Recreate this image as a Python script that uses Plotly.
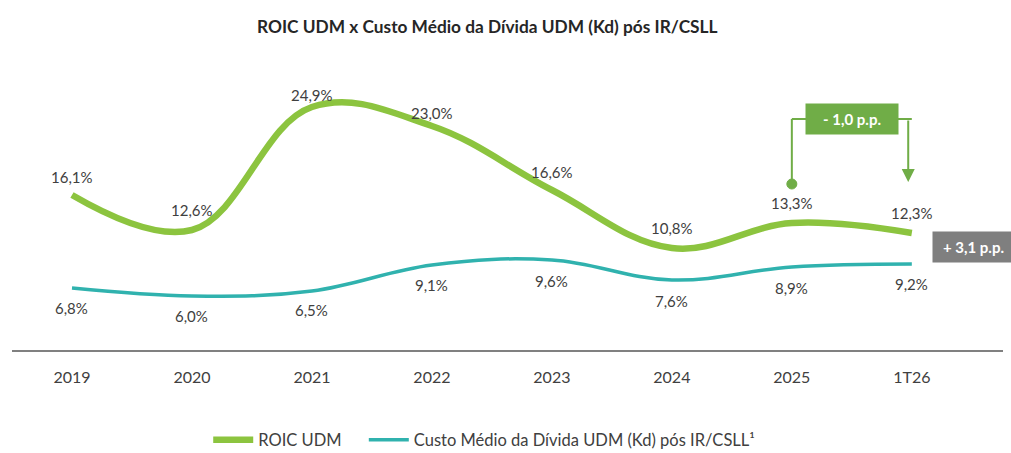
import plotly.graph_objects as go

categories = ["2019", "2020", "2021", "2022", "2023", "2024", "2025", "1T26"]
roic = [16.1, 12.6, 24.9, 23.0, 16.6, 10.8, 13.3, 12.3]
kd = [6.8, 6.0, 6.5, 9.1, 9.6, 7.6, 8.9, 9.2]
roic_name = "ROIC UDM"
kd_name = "Custo Médio da Dívida UDM (Kd) pós IR/CSLL¹"
delta_roic = "- 1,0 p.p."
spread = "+ 3,1 p.p."

# label offsets (pixels) above / below the curves
roic_label_shift = [18, 20, 12, 13, 18, 20, 20, 20]
kd_label_shift = [-20, -20, -19, -20, -21, -21, -21, -20]

GREEN = "#8CC43F"
TEAL = "#30B2AE"
BOXGREEN = "#70AD47"
TXT = "#404040"
FONT = "Lato"

idx = list(range(len(categories)))

fig = go.Figure()
fig.add_trace(go.Scatter(x=idx, y=roic, name=roic_name, mode="lines", legend="legend",
                         line=dict(color=GREEN, width=6.5, shape="spline", smoothing=1.1),
                         hoverinfo="skip"))
fig.add_trace(go.Scatter(x=idx, y=kd, name=kd_name, mode="lines", legend="legend2",
                         line=dict(color=TEAL, width=3.5, shape="spline", smoothing=1.1),
                         hoverinfo="skip"))

def fmt(v):
    return f"{v:.1f}%".replace(".", ",")

anns = []
for i, v, s in zip(idx, roic, roic_label_shift):
    anns.append(dict(x=i, y=v, xref="x", yref="y", text=fmt(v), showarrow=False, yshift=s,
                     font=dict(family=FONT, size=15, color=TXT)))
for i, v, s in zip(idx, kd, kd_label_shift):
    anns.append(dict(x=i, y=v, xref="x", yref="y", text=fmt(v), showarrow=False, yshift=s,
                     font=dict(family=FONT, size=15, color=TXT)))

# bracket for ROIC change 2025 -> 1T26
i25 = categories.index("2025")
i26 = categories.index("1T26")
top_y = 23.7
low_y = 17.2
shapes = [
    dict(type="line", xref="x", yref="y", x0=i25, x1=i26, y0=top_y, y1=top_y,
         line=dict(color=BOXGREEN, width=2)),
    dict(type="line", xref="x", yref="y", x0=i25, x1=i25, y0=top_y, y1=low_y,
         line=dict(color=BOXGREEN, width=2)),
    dict(type="circle", xref="x", yref="y", xsizemode="pixel", ysizemode="pixel",
         xanchor=i25, yanchor=low_y, x0=-5, x1=5, y0=-5, y1=5,
         fillcolor=BOXGREEN, line=dict(color=BOXGREEN, width=1)),
]
anns.append(dict(x=i26 - 0.03, y=low_y + 0.2, ax=i26 - 0.03, ay=top_y, axref="x", ayref="y",
                 xref="x", yref="y", showarrow=True, arrowhead=2, arrowsize=1.3,
                 arrowwidth=2, arrowcolor=BOXGREEN, text=""))
anns.append(dict(x=(i25 + i26) / 2, y=top_y, xref="x", yref="y", text="<b>" + delta_roic + "</b>",
                 showarrow=False, bgcolor=BOXGREEN, width=90, height=28,
                 font=dict(family=FONT, size=15, color="white")))
anns.append(dict(x=0.928, xref="paper", y=10.9, yref="y", xanchor="left",
                 text="<b>" + spread + "</b>", showarrow=False, bgcolor="#7F7F7F",
                 width=79, height=28, align="center",
                 font=dict(family=FONT, size=15, color="white")))

legend_common = dict(orientation="h", xanchor="left", y=-0.25, yanchor="top",
                     font=dict(family=FONT, size=16.5, color=TXT), itemwidth=40,
                     bgcolor="rgba(0,0,0,0)")

fig.update_layout(
    width=1011, height=453,
    margin=dict(l=12, r=8, t=60, b=103, autoexpand=False),
    paper_bgcolor="white", plot_bgcolor="white",
    title=dict(text="<b>ROIC UDM x Custo Médio da Dívida UDM (Kd) pós IR/CSLL</b>",
               x=0.482, xanchor="center", y=0.94, yanchor="middle",
               font=dict(family=FONT, size=17.3, color="#262626")),
    xaxis=dict(range=[-0.5, 7.76], showgrid=False, zeroline=False,
               tickmode="array", tickvals=idx, ticktext=categories,
               showline=True, linecolor="#808080", linewidth=2,
               ticks="", ticklabelstandoff=12,
               tickfont=dict(family=FONT, size=16, color=TXT)),
    yaxis=dict(visible=False, range=[0.6, 29.6]),
    legend=dict(x=0.198, **legend_common),
    legend2=dict(x=0.355, **legend_common),
    annotations=anns, shapes=shapes,
    showlegend=True,
)

fig.write_html("out.html", config={"displayModeBar": False},
               post_script="document.body.style.margin='0';")
